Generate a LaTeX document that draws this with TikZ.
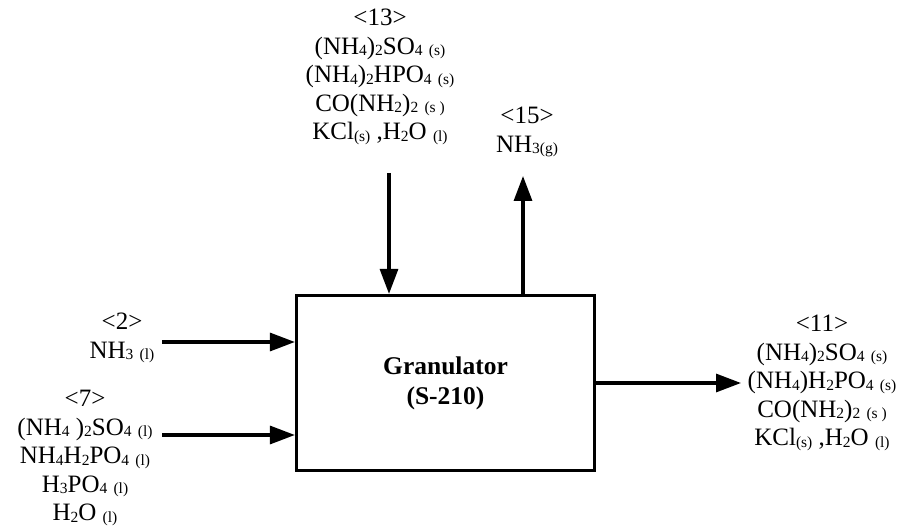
\documentclass[tikz,border=0pt]{standalone}
\usepackage{fontspec}
\setmainfont{Liberation Serif}
\usetikzlibrary{arrows.meta}
\newcommand{\chs}[1]{{\fontsize{15.5}{15.5}\selectfont\raisebox{-1.5pt}{#1}}}

\begin{document}
\begin{tikzpicture}[x=1pt, y=-1pt,
  unit/.style={draw, line width=3.2pt, minimum width=298pt, minimum height=175pt, align=center, font=\fontsize{25.5}{30}\selectfont\bfseries},
  stream/.style={align=center, inner sep=0pt, font=\fontsize{25}{28.5}\selectfont},
  arr/.style={-{Triangle[length=25pt, width=18pt]}, line width=3.2pt}
]
  \useasboundingbox (0,0) rectangle (912,529);
  \node[unit] (gran) at (445.5,383) {Granulator\\(S-210)};

  \node[stream] (s13) at (380,77) {<13>\\(NH\chs{4})\chs{2}SO\chs{4} \chs{(s)}\\(NH\chs{4})\chs{2}HPO\chs{4} \chs{(s)}\\CO(NH\chs{2})\chs{2} \chs{(s )}\\KCl\chs{(s)} ,H\chs{2}O \chs{(l)}};
  \node[stream] (s15) at (527,132) {<15>\\NH\chs{3(g)}};
  \node[stream] (s2) at (122,338) {<2>\\NH\chs{3} \chs{(l)}};
  \node[stream] (s7) at (85,458) {<7>\\(NH\chs{4} )\chs{2}SO\chs{4} \chs{(l)}\\NH\chs{4}H\chs{2}PO\chs{4} \chs{(l)}\\H\chs{3}PO\chs{4} \chs{(l)}\\H\chs{2}O \chs{(l)}};
  \node[stream] (s11) at (822,383) {<11>\\(NH\chs{4})\chs{2}SO\chs{4} \chs{(s)}\\(NH\chs{4})H\chs{2}PO\chs{4} \chs{(s)}\\CO(NH\chs{2})\chs{2} \chs{(s )}\\KCl\chs{(s)} ,H\chs{2}O \chs{(l)}};

  \coordinate (c13) at (389,173);
  \coordinate (c15) at (523,176);
  \coordinate (c2) at (162,342);
  \coordinate (c7) at (162,435);
  \coordinate (c11) at (741,383);

  \draw[arr] (c13) -- (c13 |- gran.north);
  \draw[arr] (c15 |- gran.north) -- (c15);
  \draw[arr] (c2) -- (c2 -| gran.west);
  \draw[arr] (c7) -- (c7 -| gran.west);
  \draw[arr] (gran.east) -- (c11);
\end{tikzpicture}
\end{document}
